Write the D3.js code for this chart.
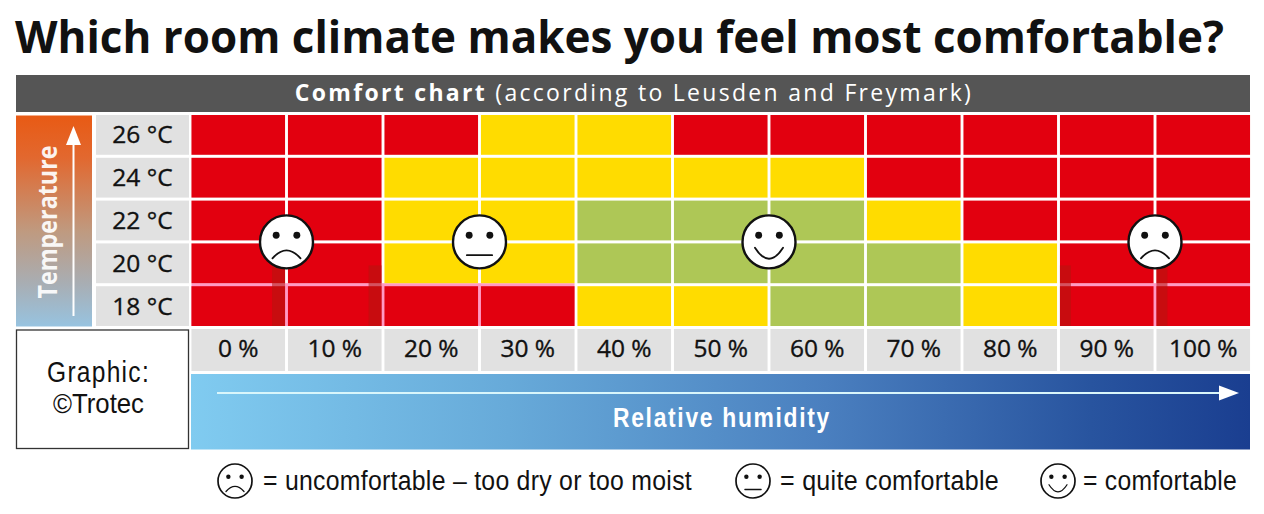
<!DOCTYPE html>
<html lang="en">

<head>
  <meta charset="UTF-8" />
  <title>Comfort chart</title>
  <style>
    html,
    body {
      margin: 0;
      padding: 0;
      background: #fff;
    }

    svg {
      display: block;
    }

    .narrow {
      font-family: "Liberation Sans", sans-serif;
      fill: #111;
    }

    .tick-label {
      font: 500 24.5px "Open Sans", sans-serif;
      fill: #111;
      stroke: #111;
      stroke-width: 0.35px;
    }
  </style>
</head>

<body>
  <script src="https://d3js.org/d3.v7.min.js"></script>
  <script>
    const temperatures = ["26 °C", "24 °C", "22 °C", "20 °C", "18 °C"];
    const humidities = ["0 %", "10 %", "20 %", "30 %", "40 %", "50 %", "60 %", "70 %", "80 %", "90 %", "100 %"];

    // one row per temperature, one letter per humidity: r = uncomfortable, y = quite, g = comfortable
    const row26 = ["r", "r", "r", "y", "y", "r", "r", "r", "r", "r", "r"];
    const row24 = ["r", "r", "y", "y", "y", "y", "y", "r", "r", "r", "r"];
    const row22 = ["r", "r", "y", "y", "g", "g", "g", "y", "r", "r", "r"];
    const row20 = ["r", "r", "y", "y", "g", "g", "g", "g", "y", "r", "r"];
    const row18 = ["r", "r", "r", "r", "y", "y", "g", "g", "y", "r", "r"];
    const rows = [row26, row24, row22, row20, row18];

    const faceHumidity = [5, 25, 55, 95];
    const faceTemperature = [21, 21, 21, 21];
    const faceMood = ["sad", "flat", "happy", "sad"];

    const colors = { r: "#e2000f", y: "#ffdc00", g: "#aec756" };

    const W = 1264, H = 514;
    const svg = d3.select("body").append("svg").attr("width", W).attr("height", H);
    const defs = svg.append("defs");

    const x = d3.scaleBand().domain(humidities).range([190, 1251.5]).paddingInner(0.03).paddingOuter(0.015);
    const y = d3.scaleBand().domain(temperatures).range([113.5, 327.5]).paddingInner(0.07).paddingOuter(0.035);

    // continuous scales sharing the grid, used to put the faces on cell corners
    const hx = d3.scaleLinear().domain([0, 100]).range([x("0 %") + x.bandwidth() / 2, x("100 %") + x.bandwidth() / 2]);
    const ty = d3.scaleLinear().domain([26, 18]).range([y("26 °C") + y.bandwidth() / 2, y("18 °C") + y.bandwidth() / 2]);

    function gradient(id, x2, y2, stops) {
      const g = defs.append("linearGradient").attr("id", id)
        .attr("x1", 0).attr("y1", 0).attr("x2", x2).attr("y2", y2);
      stops.forEach(([o, c]) => g.append("stop").attr("offset", o).attr("stop-color", c));
    }
    gradient("tempGrad", 0, 1, [[0, "#e85a14"], [0.2, "#e2682f"], [0.55, "#bf9a80"], [0.8, "#a8aeb4"], [1, "#97c3e0"]]);
    gradient("humGrad", 1, 0, [[0, "#80cbf0"], [0.3, "#67aad9"], [0.6, "#4a7fbf"], [0.85, "#28549f"], [1, "#1a3e90"]]);

    // title
    svg.append("text").attr("x", 15).attr("y", 53)
      .attr("textLength", 1209).attr("lengthAdjust", "spacingAndGlyphs")
      .style("font", "700 44px 'Open Sans', sans-serif").attr("fill", "#111")
      .text("Which room climate makes you feel most comfortable?");

    // header bar
    svg.append("rect").attr("x", 16).attr("y", 75).attr("width", 1234).attr("height", 37).attr("fill", "#555");
    const header = svg.append("text").attr("x", 634).attr("y", 101).attr("text-anchor", "middle")
      .attr("fill", "#fff").style("font", "400 23px 'Open Sans', sans-serif").style("letter-spacing", "2.3px");
    header.append("tspan").style("font-weight", 700).text("Comfort chart");
    header.append("tspan").text(" (according to Leusden and Freymark)");

    // temperature strip
    svg.append("rect").attr("x", 16).attr("y", 115.5).attr("width", 76).attr("height", 211).attr("fill", "url(#tempGrad)");
    svg.append("text").attr("transform", "translate(57,222) rotate(-90)").attr("text-anchor", "middle")
      .attr("textLength", 153).attr("lengthAdjust", "spacingAndGlyphs")
      .attr("fill", "#fff").style("font", "700 26px 'Open Sans', sans-serif")
      .attr("opacity", 0.92).text("Temperature");
    svg.append("line").attr("x1", 73.5).attr("x2", 73.5).attr("y1", 316).attr("y2", 140)
      .attr("stroke", "#fff").attr("stroke-width", 2);
    svg.append("path").attr("d", d3.line()([[66, 145], [81, 145], [73.5, 126]])).attr("fill", "#fff");

    // temperature labels
    const rowLabels = svg.append("g").selectAll("g").data(temperatures).join("g");
    rowLabels.append("rect").attr("x", 96).attr("y", d => y(d)).attr("width", 93).attr("height", y.bandwidth()).attr("fill", "#e1e1e1");
    rowLabels.append("text").attr("class", "tick-label").attr("x", 142.5).attr("y", d => y(d) + y.bandwidth() / 2 + 8.5)
      .attr("text-anchor", "middle").text(d => d);

    // pink seams in the lower corners of the grid, seen through the cell gaps
    const seamRows = ["20 °C", "18 °C"];
    const seamCols = [["0 %", "30 %"], ["90 %", "100 %"]];
    seamCols.forEach(([a, b]) => {
      svg.append("rect").attr("x", x(a)).attr("y", y(seamRows[1]) - 3)
        .attr("width", x(b) + x.bandwidth() - x(a)).attr("height", y.bandwidth() + 3).attr("fill", "#ff9ac4");
    });

    // comfort cells
    svg.append("g").selectAll("g").data(rows).join("g")
      .attr("transform", (d, i) => `translate(0,${y(temperatures[i])})`)
      .selectAll("rect").data(d => d).join("rect")
      .attr("x", (d, i) => x(humidities[i]))
      .attr("width", x.bandwidth()).attr("height", y.bandwidth())
      .attr("fill", d => colors[d]);

    // darker bands along some cell edges
    const shadeRight = ["0 %", "10 %"];
    const shadeLeft = ["90 %", "100 %"];
    const shade = svg.append("g").attr("fill", "#b3160f").attr("opacity", 0.55);
    const shadeTop = y("20 °C") + 22;
    const shadeH = y("18 °C") + y.bandwidth() - shadeTop;
    shadeRight.forEach(d => shade.append("rect").attr("x", x(d) + x.bandwidth() - 13).attr("y", shadeTop).attr("width", 13).attr("height", shadeH));
    shadeLeft.forEach(d => shade.append("rect").attr("x", x(d)).attr("y", shadeTop).attr("width", 11).attr("height", shadeH));

    // humidity labels
    const colLabels = svg.append("g").selectAll("g").data(humidities).join("g");
    colLabels.append("rect").attr("x", d => x(d)).attr("y", 329).attr("width", x.bandwidth()).attr("height", 42).attr("fill", "#e1e1e1");
    colLabels.append("text").attr("class", "tick-label").attr("x", d => x(d) + x.bandwidth() / 2).attr("y", 357)
      .attr("text-anchor", "middle").text(d => d);

    // credit box
    svg.append("rect").attr("x", 16.5).attr("y", 330).attr("width", 172).attr("height", 118.5)
      .attr("fill", "#fff").attr("stroke", "#333").attr("stroke-width", 1.3);
    svg.append("text").attr("class", "narrow").attr("x", 47).attr("y", 382)
      .attr("textLength", 103).attr("lengthAdjust", "spacingAndGlyphs")
      .style("font-size", "29px").style("letter-spacing", "1.5px").text("Graphic:");
    svg.append("text").attr("class", "narrow").attr("x", 53).attr("y", 413)
      .attr("textLength", 91).attr("lengthAdjust", "spacingAndGlyphs")
      .style("font-size", "28px").text("©Trotec");

    // humidity strip
    svg.append("rect").attr("x", 191).attr("y", 374).attr("width", 1059).attr("height", 75.5).attr("fill", "url(#humGrad)");
    svg.append("line").attr("x1", 217).attr("x2", 1222).attr("y1", 393).attr("y2", 393)
      .attr("stroke", "#d9f6fb").attr("stroke-width", 2);
    svg.append("path").attr("d", d3.line()([[1219, 385.5], [1219, 400.5], [1239, 393]])).attr("fill", "#fff");
    svg.append("text").attr("x", 613).attr("y", 427)
      .attr("textLength", 218).attr("lengthAdjust", "spacingAndGlyphs")
      .attr("fill", "#fff").style("font", "700 27px 'Liberation Sans', sans-serif").style("letter-spacing", "2px")
      .text("Relative humidity");

    function face(g, mood, r, sw) {
      g.append("circle").attr("r", r).attr("fill", "#fff").attr("stroke", "#111").attr("stroke-width", sw);
      g.selectAll(".eye").data([-1, 1]).join("circle").attr("class", "eye")
        .attr("cx", d => d * r * 0.39).attr("cy", -r * 0.25).attr("r", r * 0.13).attr("fill", "#111");
      const m = g.append("path").attr("fill", "none").attr("stroke", "#111").attr("stroke-width", sw * 0.75).attr("stroke-linecap", "round");
      const w = r * 0.53;
      if (mood === "sad") m.attr("d", `M${-w},${r * 0.62}Q0,${r * 0.02} ${w},${r * 0.62}`);
      if (mood === "flat") m.attr("d", `M${-w * 0.9},${r * 0.5}L${w * 0.9},${r * 0.5}`);
      if (mood === "happy") m.attr("d", `M${-w},${r * 0.22}Q0,${r * 1.05} ${w},${r * 0.22}`);
    }

    faceMood.forEach((mood, i) => {
      const g = svg.append("g").attr("transform", `translate(${hx(faceHumidity[i])},${ty(faceTemperature[i])})`);
      face(g, mood, 26.5, 2.4);
    });

    // legend
    const legendFace = ["sad", "flat", "happy"];
    const legendFaceX = [235, 753, 1058];
    const legendTextX = [263, 780, 1083];
    const legendText = ["= uncomfortable – too dry or too moist", "= quite comfortable", "= comfortable"];
    const legendTextLen = [429, 219, 154];
    legendFace.forEach((mood, i) => {
      face(svg.append("g").attr("transform", `translate(${legendFaceX[i]},481)`), mood, 17, 1.7);
      svg.append("text").attr("class", "narrow").attr("x", legendTextX[i]).attr("y", 490)
        .attr("textLength", legendTextLen[i]).attr("lengthAdjust", "spacingAndGlyphs")
        .style("font-size", "27px").style("letter-spacing", "0.3px").text(legendText[i]);
    });
  </script>
</body>

</html>
